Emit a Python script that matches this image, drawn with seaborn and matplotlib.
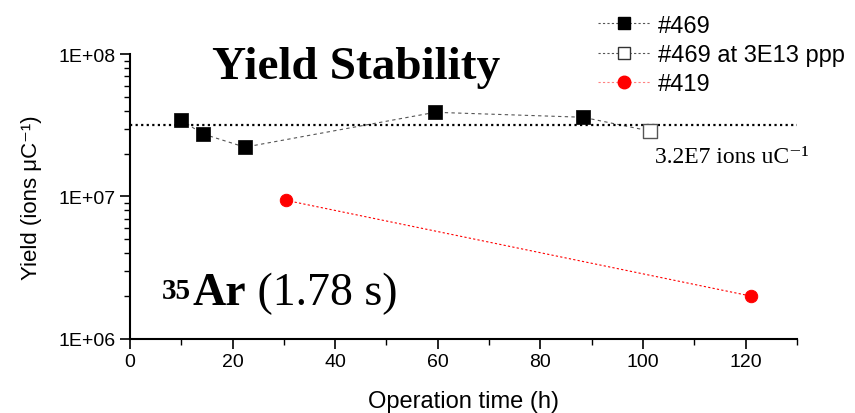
import numpy as np
import pandas as pd
import matplotlib
matplotlib.use("Agg")
import matplotlib.pyplot as plt
import seaborn as sns
from matplotlib.lines import Line2D
from matplotlib.ticker import LogLocator, MultipleLocator, FixedFormatter, FixedLocator

# -------------------------------------
# DATA
# -------------------------------------
hours_469 = [9.9, 14.2, 22.4, 59.5, 88.3]
yield_469 = [3.45e7, 2.75e7, 2.22e7, 3.9e7, 3.6e7]

hours_469_3e13 = [101.4]
yield_469_3e13 = [2.88e7]

hours_419 = [30.4, 121.0]
yield_419 = [9.4e6, 2.0e6]

reference_yield = 3.2e7

sans = ["Liberation Sans", "DejaVu Sans"]
serif = ["Liberation Serif", "DejaVu Serif"]

# -------------------------------------
# FIGURE
# -------------------------------------
sns.set_style("ticks")
plt.rcParams["font.family"] = sans
plt.rcParams["text.color"] = "black"
plt.rcParams["axes.labelcolor"] = "black"

fig = plt.figure(figsize=(8.55, 4.14), dpi=100)
ax = fig.add_axes([0.152, 0.179, 0.78, 0.688])

# dashed connecting line for #469 (both parts)
line_469 = pd.DataFrame({
    "hours": hours_469 + hours_469_3e13,
    "yield": yield_469 + yield_469_3e13,
})
sns.lineplot(data=line_469, x="hours", y="yield", ax=ax, color="#555555",
             linestyle=(0, (3, 3)), linewidth=0.8, sort=False)
sns.scatterplot(x=hours_469, y=yield_469, ax=ax, marker="s", s=90,
                color="black", edgecolor="black", linewidth=0.5, zorder=5)
sns.scatterplot(x=hours_469_3e13, y=yield_469_3e13, ax=ax, marker="s", s=90,
                facecolor="white", edgecolor="#555555", linewidth=1.0, zorder=5)

# #419
sns.lineplot(x=hours_419, y=yield_419, ax=ax, color="red",
             linestyle=(0, (2, 2)), linewidth=0.8)
sns.scatterplot(x=hours_419, y=yield_419, ax=ax, marker="o", s=80,
                color="red", edgecolor="red", zorder=5)

# reference line
ax.axhline(reference_yield, color="black", linestyle=(0, (1, 1.5)), linewidth=1.6, zorder=3)

# -------------------------------------
# AXES
# -------------------------------------
ax.set_yscale("log")
ax.set_ylim(1e6, 1e8)
ax.set_xlim(0, 130)
ax.xaxis.set_major_locator(MultipleLocator(20))
ax.xaxis.set_minor_locator(MultipleLocator(10))
ax.yaxis.set_major_locator(FixedLocator([1e6, 1e7, 1e8]))
ax.yaxis.set_major_formatter(FixedFormatter(["1E+06", "1E+07", "1E+08"]))
ax.yaxis.set_minor_locator(LogLocator(base=10, subs=np.arange(2, 10)))
ax.tick_params(axis="both", which="major", direction="out", length=7, width=1.2,
               labelsize=14, colors="black")
ax.tick_params(axis="both", which="minor", direction="out", length=4, width=1.0,
               colors="black")
for side in ["left", "bottom"]:
    ax.spines[side].set_linewidth(1.5)
    ax.spines[side].set_color("black")
sns.despine(ax=ax)

ax.set_xlabel("Operation time (h)", fontsize=17, labelpad=14)
ax.set_ylabel("Yield (ions \u03bcC\u207b\u00b9)", fontsize=16, labelpad=12)

# -------------------------------------
# TEXT
# -------------------------------------
ax.text(0.339, 0.915, "Yield Stability", transform=ax.transAxes, ha="center",
        va="baseline", fontsize=34, fontweight="bold", family=serif)

t_ar = ax.text(0.094, 0.123, "Ar", transform=ax.transAxes, va="baseline",
               fontsize=33, fontweight="bold", family=serif)
ax.annotate("35", xy=(0, 1), xycoords=t_ar, xytext=(-1, -4), textcoords="offset points",
            ha="right", va="top", fontsize=21, fontweight="bold", family=serif)
ax.annotate(" (1.78 s)", xy=(1, 0), xycoords=t_ar, va="bottom",
            fontsize=33, family=serif)

ax.text(0.787, 0.621, "3.2E7 ions uC\u207b\u00b9", transform=ax.transAxes,
        va="baseline", fontsize=17, family=serif)

# -------------------------------------
# LEGEND
# -------------------------------------
handles = [
    Line2D([], [], color="#555555", linestyle=(0, (2, 2)), linewidth=0.8,
           marker="s", markersize=9, markerfacecolor="black", markeredgecolor="black"),
    Line2D([], [], color="#555555", linestyle=(0, (2, 2)), linewidth=0.8,
           marker="s", markersize=9, markerfacecolor="white", markeredgecolor="#333333"),
    Line2D([], [], color="#ff8080", linestyle=(0, (2, 2)), linewidth=0.8,
           marker="o", markersize=9, markerfacecolor="red", markeredgecolor="red"),
]
labels = ["#469", "#469 at 3E13 ppp", "#419"]
fig.legend(handles, labels, loc="upper left", bbox_to_anchor=(598 / 855, 0.962),
           frameon=False, fontsize=17, handlelength=2.2, labelspacing=0.3,
           handletextpad=0.35, borderaxespad=0, borderpad=0)

fig.savefig("out.png", dpi=100)
